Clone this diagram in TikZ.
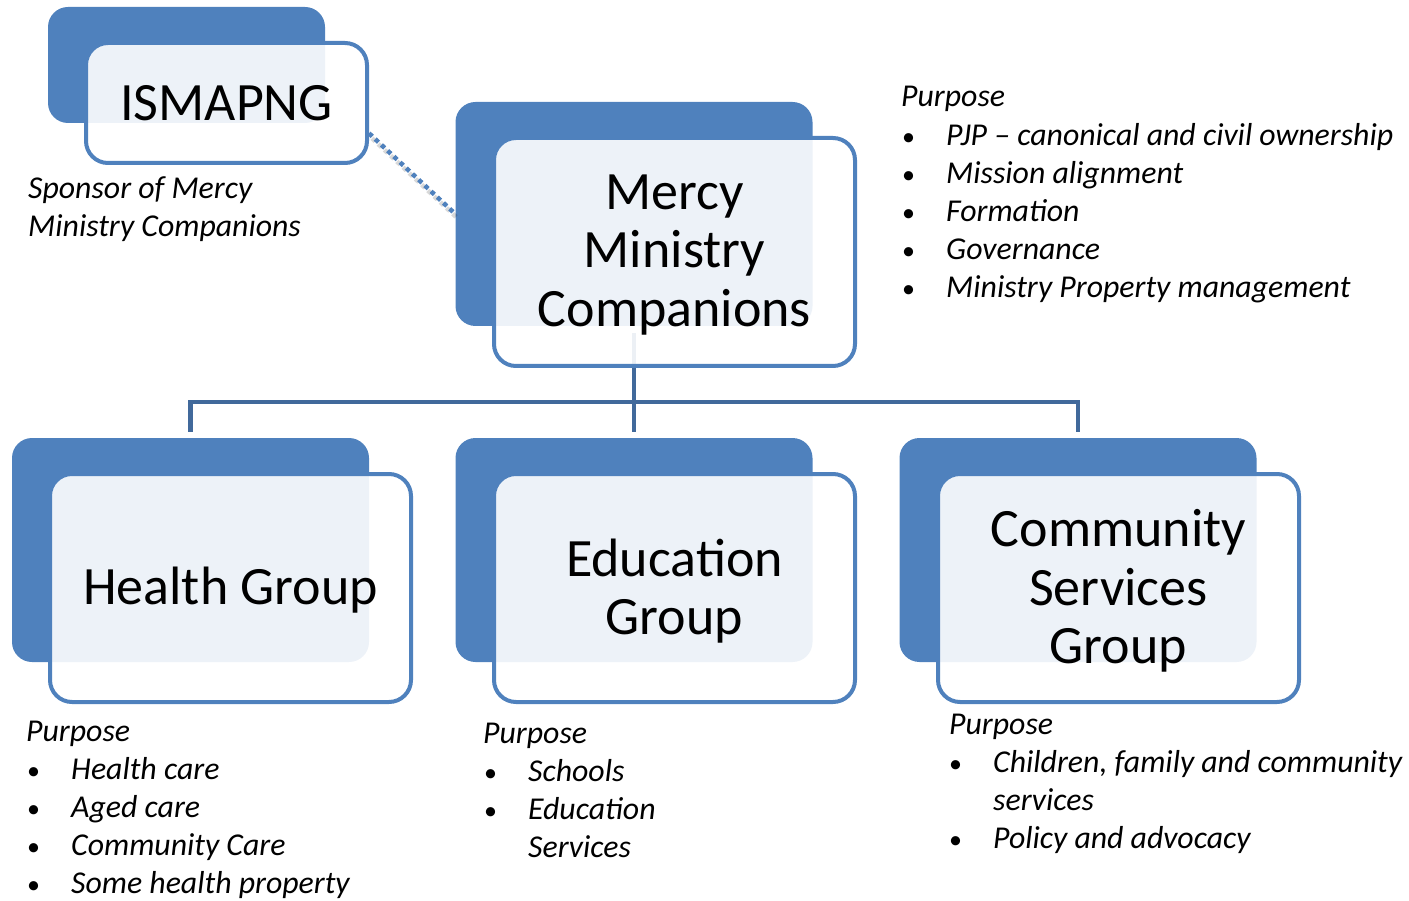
\documentclass[tikz,border=0pt]{standalone}
\usepackage{fontspec}
\setmainfont{Carlito}
\usetikzlibrary{calc}
\definecolor{boxblue}{HTML}{4F81BD}
\definecolor{linkblue}{HTML}{41699B}
\newcommand{\dotfont}{\fontsize{26}{26}\selectfont\upshape}
\begin{document}
\begin{tikzpicture}[x=1pt, y=-1pt,
  backbox/.style 2 args = {fill=boxblue, rounded corners=20pt, minimum width=#1, minimum height=#2, inner sep=0pt},
  frontbox/.style 2 args = {draw=boxblue, line width=4pt, fill=white, fill opacity=0.9, rounded corners=22pt, minimum width=#1, minimum height=#2, inner sep=0pt},
  boxtext/.style = {align=center, inner sep=0pt, font=\fontsize{54}{58.5}\selectfont},
  link/.style = {draw=linkblue, line width=4.5pt},
  dotlink/.style = {draw=boxblue, line width=4.5pt, dash pattern=on 4.5pt off 4pt},
  txt/.style = {anchor=base west, inner sep=0pt, font=\fontsize{31.8}{38.2}\selectfont\itshape}]
\useasboundingbox (0,0) rectangle (1409,901);
% back boxes
\node[backbox={277}{116}] (ismab) at (186.5,65) {};
\node[backbox={357}{224}] (mmcb) at (634,214) {};
\node[backbox={357}{224}] (healthb) at (190.5,550) {};
\node[backbox={357}{224}] (edub) at (634,550) {};
\node[backbox={357}{224}] (commb) at (1078,550) {};
% tree
\coordinate (bar) at (634,402);
\draw[link] ($(mmcb.south)+(0,7)$) -- ($(edub.north)+(0,-6)$);
\draw[link] ($(healthb.north)+(0,-6)$) |- (bar) -| ($(commb.north)+(0,-6)$);
% front boxes
\node[frontbox={281}{120}] (isma) at (226.5,103) {};
\node[frontbox={361}{228}] (mmc) at (674.5,252) {};
\node[frontbox={361}{228}] (health) at (230.5,588) {};
\node[frontbox={361}{228}] (edu) at (674.5,588) {};
\node[frontbox={361}{228}] (comm) at (1118.5,588) {};
\node[boxtext] (ismat) at (isma) {ISMAPNG};
\node[boxtext] (mmct) at ($(mmc)+(0,3)$) {Mercy\\Ministry\\Companions};
\node[boxtext] (healtht) at ($(health)+(0,2)$) {Health Group};
\node[boxtext] (edut) at ($(edu)+(0,3)$) {Education\\Group};
\node[boxtext] (commt) at ($(comm)+(0,3)$) {Community\\Services\\Group};
% sponsor link
\draw[dotlink, draw=black, opacity=0.15] ($(isma.-12)+(3,5)$) -- ($(mmcb.west)+(3,5)$);
\draw[dotlink] (isma.-12) -- (mmcb.west);
% purpose texts
\node[txt] (sponsor1) at (28,199) {Sponsor of Mercy};
\node[txt] (sponsor2) at (28,237) {Ministry Companions};
\node[txt] (mmcp) at (901,107) {Purpose};
\foreach \b/\t [count=\i] in {\textbullet/PJP \textendash{} canonical and civil ownership, \textbullet/Mission alignment, \textbullet/Formation, \textbullet/Governance, \textbullet/Ministry Property management}
  \node[txt] (mmcp\i) at (902,{107+38.2*\i}) {\makebox[44pt][l]{\dotfont\b}\t};
\node[txt] (healthp) at (26,741) {Purpose};
\foreach \b/\t [count=\i] in {\textbullet/Health care, \textbullet/Aged care, \textbullet/Community Care, \textbullet/Some health property}
  \node[txt] (healthp\i) at (27,{741+38.2*\i}) {\makebox[44pt][l]{\dotfont\b}\t};
\node[txt] (edup) at (483,743) {Purpose};
\foreach \b/\t [count=\i] in {\textbullet/Schools, \textbullet/Education, /Services}
  \node[txt] (edup\i) at (484,{743+38.2*\i}) {\makebox[44pt][l]{\dotfont\b}\t};
\node[txt] (commp) at (949,734) {Purpose};
\foreach \b/\t [count=\i] in {\textbullet/{Children, family and community}, /services, \textbullet/Policy and advocacy}
  \node[txt] (commp\i) at (949,{734+38.2*\i}) {\makebox[44pt][l]{\dotfont\b}\t};
\end{tikzpicture}
\end{document}
